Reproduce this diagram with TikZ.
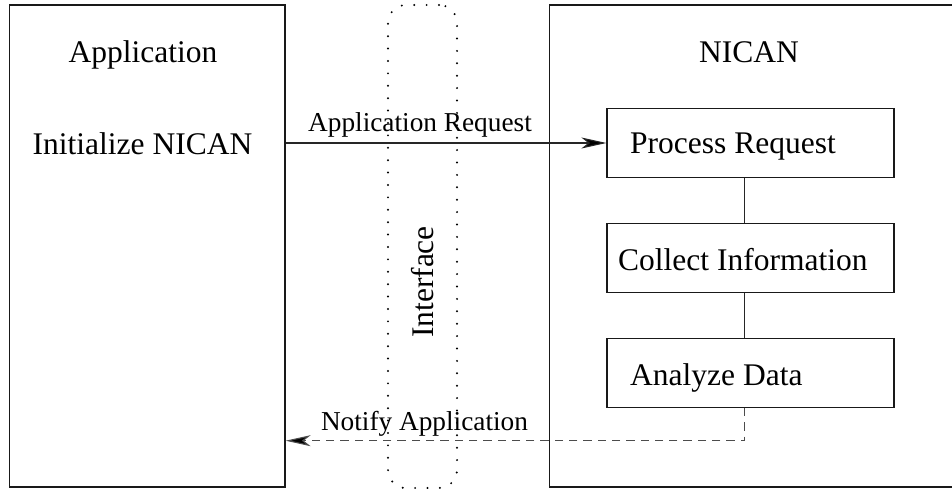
\documentclass[tikz,border=0pt]{standalone}
\usepackage{fontspec}
\setmainfont{Liberation Serif}
\usetikzlibrary{arrows.meta}
\begin{document}
\begin{tikzpicture}[x=1pt,y=-1pt,
  boxstyle/.style={draw=black!90, line width=1.2pt, rectangle, inner sep=0pt},
  bigtext/.style={font=\fontsize{31.5}{36}\selectfont, inner sep=0pt},
  smalltext/.style={font=\fontsize{27.3}{31}\selectfont, inner sep=0pt},
  ifacestyle/.style={draw=black, line width=2.2pt, line cap=round, dash pattern={on 0pt off 12.4pt}, rounded corners=18pt, inner sep=0pt},
  linkstyle/.style={draw=black!85, line width=1.1pt},
  tipstyle/.style={-{Stealth[length=25pt, width=11pt, inset=7pt, fill=black]}}
]
\useasboundingbox (0,0) rectangle (952,489);
\clip (0,0) rectangle (952,489);
% outer boxes
\node[boxstyle, minimum width=275.5pt, minimum height=482pt] (app) at (147.25,246) {};
\node[boxstyle, minimum width=420pt, minimum height=482pt] (nican) at (759.5,246) {};
% interface
\node[ifacestyle, minimum width=69pt, minimum height=483pt] (iface) at (422.5,246.5) {};
\node[bigtext, rotate=90, anchor=base] (ifacet) at (433,282) {Interface};
% inner boxes
\node[boxstyle, minimum width=287pt, minimum height=68.6pt] (proc) at (750.5,143) {};
\node[boxstyle, minimum width=287pt, minimum height=68.6pt] (coll) at (750.5,258) {};
\node[boxstyle, minimum width=287pt, minimum height=69pt] (ana) at (750.5,372.8) {};
% texts
\node[bigtext, anchor=base] (appt) at (143,63) {Application};
\node[bigtext, anchor=base] (initt) at (142.5,155) {Initialize NICAN};
\node[bigtext, anchor=base] (nicant) at (749,63) {NICAN};
\node[bigtext, anchor=base west] (proct) at (630,154) {Process Request};
\node[bigtext, anchor=base west] (collt) at (618,270) {Collect Information};
\node[bigtext, anchor=base west] (anat) at (630,385.7) {Analyze Data};
\node[smalltext, anchor=base] (reqt) at (420,131.7) {Application Request};
\node[smalltext, anchor=base] (nott) at (424.5,430) {Notify Application};
% connectors
\coordinate (cx) at (744.7,0);
\coordinate (ny) at (0,440.7);
\draw[linkstyle] (proc.south -| cx) -- (coll.north -| cx);
\draw[linkstyle] (coll.south -| cx) -- (ana.north -| cx);
\draw[linkstyle, tipstyle] (app.east |- proc.west) -- (proc.west);
\draw[linkstyle, draw=black!70, dash pattern={on 8.3pt off 6pt}, tipstyle] (ana.south -| cx) -- (cx |- ny) -- (app.east |- ny);
\end{tikzpicture}
\end{document}
